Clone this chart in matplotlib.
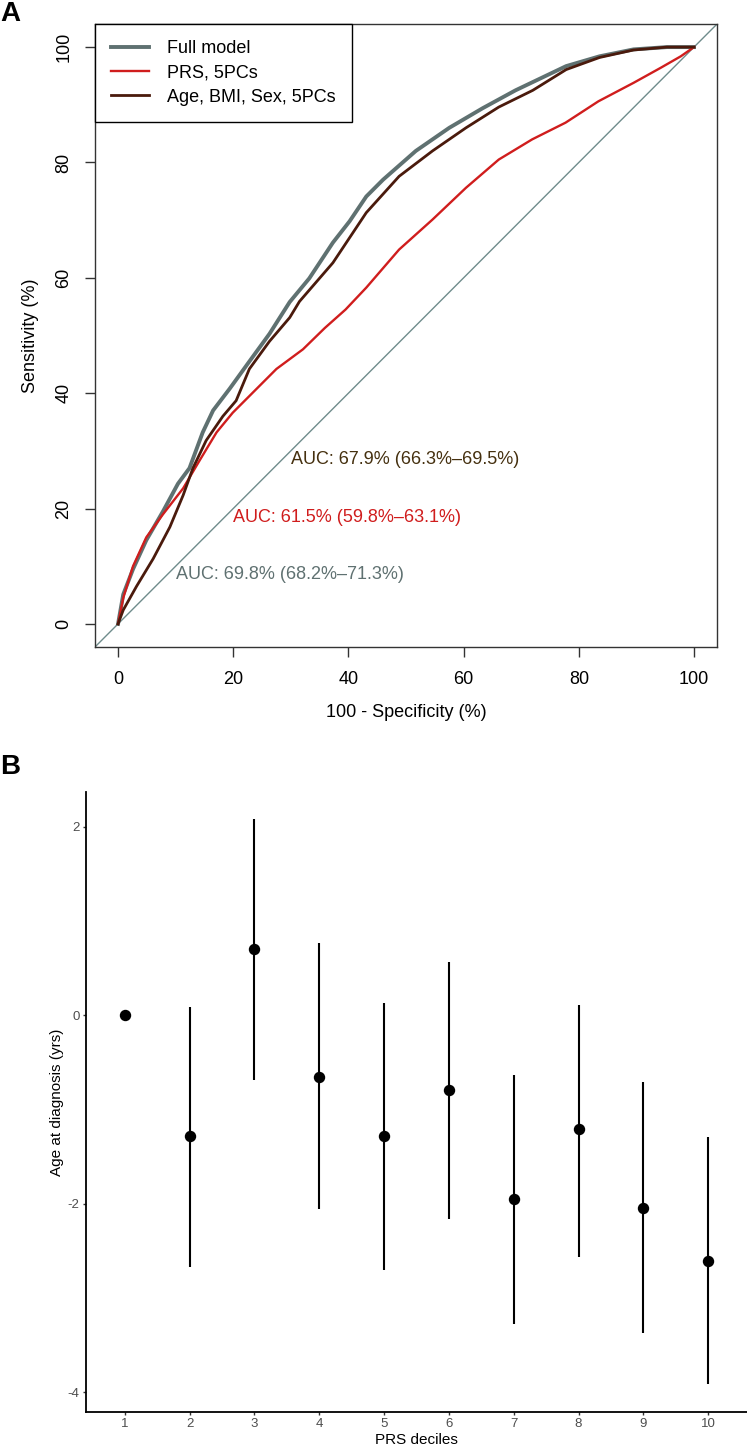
import numpy as np
import matplotlib
matplotlib.use("Agg")
import matplotlib.pyplot as plt

plt.rcParams['font.family'] = ['Liberation Sans', 'DejaVu Sans']
plt.rcParams['axes.unicode_minus'] = False

# Panel A: ROC curves (100 - specificity, sensitivity)
full_fpr = [0, 0.9, 2.6, 4.9, 7.8, 10.4, 12.4, 14.7, 16.5, 19.4, 22.8, 26.3, 29.8, 33.2,
            37.3, 40.2, 43.1, 46.0, 51.7, 57.5, 63.3, 69.0, 77.8, 83.6, 89.5, 95.3, 100]
full_tpr = [0, 5.1, 9.5, 14.5, 19.5, 24.3, 27.0, 33.2, 37.0, 40.8, 45.5, 50.3, 55.8, 59.9,
            66.1, 69.8, 74.1, 77.0, 82.0, 86.0, 89.4, 92.5, 96.7, 98.4, 99.6, 100, 100]

prs_fpr = [0, 0.9, 2.6, 4.9, 7.8, 11.3, 14.2, 17.1, 19.9, 23.4, 27.5, 32.1, 35.9, 39.5,
           43.1, 48.8, 54.6, 60.4, 66.1, 71.9, 77.7, 83.4, 89.5, 94.2, 97.7, 100]
prs_tpr = [0, 4.5, 10.0, 15.0, 19.0, 23.5, 28.4, 33.2, 36.6, 40.1, 44.2, 47.6, 51.3, 54.5,
           58.3, 64.9, 70.1, 75.6, 80.5, 84.0, 86.9, 90.6, 93.8, 96.4, 98.4, 100]

clin_fpr = [0, 0.9, 3.2, 6.1, 9.0, 11.3, 13.0, 15.3, 18.2, 20.5, 22.8, 26.3, 29.8, 31.5,
            37.3, 43.1, 48.8, 54.6, 60.4, 66.1, 72.0, 77.8, 83.6, 89.5, 95.3, 100]
clin_tpr = [0, 2.4, 6.5, 11.3, 16.8, 22.3, 27.0, 31.8, 36.0, 38.7, 44.2, 49.0, 53.1, 55.9,
            62.6, 71.3, 77.6, 82.0, 86.0, 89.6, 92.5, 96.1, 98.2, 99.5, 100, 100]

model_names = ["Full model", "PRS, 5PCs", "Age, BMI, Sex, 5PCs"]
auc_labels = ["AUC: 69.8% (68.2%\u201371.3%)",
              "AUC: 61.5% (59.8%\u201363.1%)",
              "AUC: 67.9% (66.3%\u201369.5%)"]
auc_pos = [10, 20, 30]

# Panel B: age at diagnosis difference by PRS decile
deciles = [1, 2, 3, 4, 5, 6, 7, 8, 9, 10]
age_diff = [0, -1.28, 0.70, -0.65, -1.28, -0.79, -1.95, -1.21, -2.04, -2.61]
ci_low = [np.nan, -2.67, -0.69, -2.06, -2.70, -2.16, -3.28, -2.56, -3.37, -3.91]
ci_high = [np.nan, 0.09, 2.08, 0.77, 0.13, 0.57, -0.63, 0.11, -0.71, -1.29]

grey_col = "#5f7171"
red_col = "#d01d1d"
brown_col = "#4a1a0c"


def plot_roc(ax):
    ax.axline((0, 0), slope=1, color="#6f8c8c", lw=1.0, zorder=1)
    ax.plot(full_fpr, full_tpr, color=grey_col, lw=2.8, label=model_names[0], zorder=2)
    ax.plot(prs_fpr, prs_tpr, color=red_col, lw=1.7, label=model_names[1], zorder=3)
    ax.plot(clin_fpr, clin_tpr, color=brown_col, lw=2.0, label=model_names[2], zorder=4)

    text_cols = [grey_col, red_col, "#45300f"]
    for lab, p, c in zip(auc_labels, auc_pos, text_cols):
        ax.text(p, p, lab, color=c, fontsize=13, ha="left", va="top")

    ax.set_xlim(-4, 104)
    ax.set_ylim(-4, 104)
    ax.set_xticks(np.arange(0, 101, 20))
    ax.set_yticks(np.arange(0, 101, 20))
    ax.tick_params(direction="out", length=7.2, width=1.0, color="#333333",
                   labelsize=13)
    ax.tick_params(axis="x", pad=10)
    ax.tick_params(axis="y", pad=9, labelrotation=90)
    for lab in ax.get_yticklabels():
        lab.set_va("center")
    for sp in ax.spines.values():
        sp.set_color("#333333")
        sp.set_linewidth(1.0)

    ax.set_xlabel("100 - Specificity (%)", fontsize=13)
    ax.set_ylabel("Sensitivity (%)", fontsize=13)
    ax.xaxis.set_label_coords(0.5, -0.106)
    ax.yaxis.set_label_coords(-0.1045, 0.5)
    ax.xaxis.label.set_va("center")
    ax.yaxis.label.set_va("center")

    leg = ax.legend(loc="upper left", bbox_to_anchor=(0, 1), borderaxespad=0,
                    fontsize=13, handlelength=2.1, handletextpad=1.0,
                    labelspacing=0.4, borderpad=0.9, fancybox=False,
                    framealpha=1, edgecolor="black")
    leg.get_frame().set_linewidth(1.0)


def plot_deciles(ax):
    x = np.array(deciles)
    lo = np.array(ci_low)
    hi = np.array(ci_high)
    has_ci = ~np.isnan(lo)
    ax.vlines(x[has_ci], lo[has_ci], hi[has_ci], color="black", lw=1.5)
    ax.plot(x, age_diff, "o", color="black", markersize=7.2, zorder=3)

    ax.set_xlim(0.4, 10.6)
    ax.set_ylim(-4.21, 2.37)
    ax.set_xticks(deciles)
    ax.set_xticklabels([str(d) for d in deciles])
    ax.set_yticks([-4, -2, 0, 2])
    ax.tick_params(direction="out", length=2.5, width=1.0, color="#333333",
                   labelsize=9.5, labelcolor="#4d4d4d", pad=2)
    ax.spines["top"].set_visible(False)
    ax.spines["right"].set_visible(False)
    ax.spines["left"].set_linewidth(1.3)
    ax.spines["bottom"].set_linewidth(1.3)

    ax.set_xlabel("PRS deciles", fontsize=11)
    ax.set_ylabel("Age at diagnosis (yrs)", fontsize=11)
    ax.xaxis.set_label_coords(0.5, -0.045)
    ax.yaxis.set_label_coords(-0.044, 0.5)
    ax.xaxis.label.set_va("center")
    ax.yaxis.label.set_va("center")


fig = plt.figure(figsize=(7.47, 14.47), dpi=100)
ax_a = fig.add_axes([0.1272, 0.5529, 0.8327, 0.4305])
ax_b = fig.add_axes([0.1151, 0.0242, 0.8849, 0.4285])

plot_roc(ax_a)
plot_deciles(ax_b)

fig.text(0.0, 1 - 14 / 1447, "A", fontsize=20, fontweight="bold", ha="left", va="center")
fig.text(0.0, 1 - 767 / 1447, "B", fontsize=20, fontweight="bold", ha="left", va="center")

fig.savefig("out.png", dpi=100)
